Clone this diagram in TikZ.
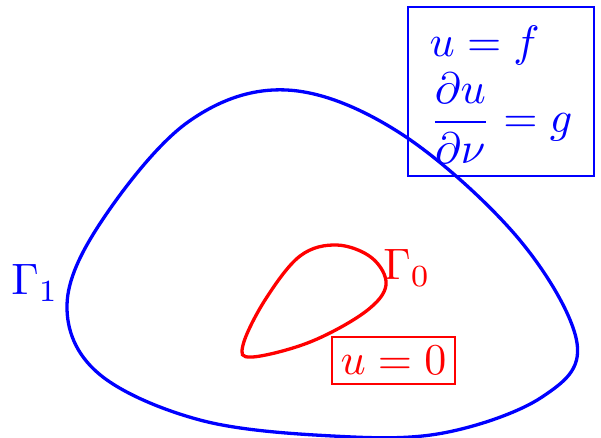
\documentclass[tikz,border=0pt]{standalone}
\usepackage{amsmath}
\usepackage{tikz}
\usetikzlibrary{positioning,calc}
\newlength\pxu
\setlength\pxu{0.2273pt}

\begin{document}
\begin{tikzpicture}[x=0.2273pt, y=-0.2273pt,
    curve/.style={line width=0.75pt},
    condbox/.style={draw, line width=0.45pt, inner sep=0pt, align=center}]
  \useasboundingbox (0,0) rectangle (601,437);
  \draw[curve, blue] plot[smooth cycle, tension=0.6] coordinates {
    (67,305) (101,222) (188,122) (287,90) (400,133) (518,238) (577,343)
    (542,397) (443,433) (333,436) (200,420) (98,373)};
  \draw[curve, red] plot[smooth cycle, tension=0.6] coordinates {
    (243,345) (265,300) (300,256) (337,245) (372,258) (386,285)
    (365,312) (310,342) (252,357)};
  \node[condbox, blue, minimum width=184\pxu, minimum height=169\pxu] (neumann)
    at (501,91.5) {$\begin{array}{l} u=f\\ \dfrac{\partial u}{\partial \nu}=g\end{array}$};
  \node[condbox, red, minimum width=123\pxu, minimum height=47\pxu] (dirichlet)
    at (393.5,360.5) {$u=0$};
  \node[red] (gamma0) at (407,268) {$\Gamma_0$};
  \node[blue] (gamma1) at (35,283) {$\Gamma_1$};
\end{tikzpicture}
\end{document}
